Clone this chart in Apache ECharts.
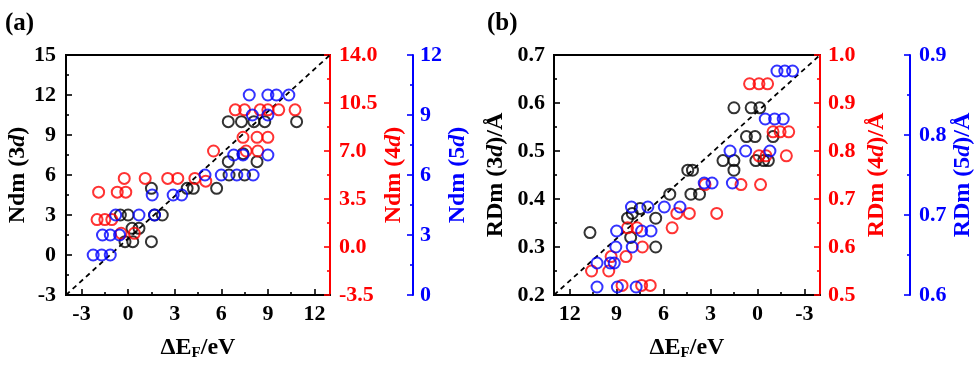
<!DOCTYPE html>
<html><head><meta charset="utf-8">
<script src="https://cdn.jsdelivr.net/npm/echarts@6/dist/echarts.min.js"></script>
<style>html,body{margin:0;padding:0;background:#fff}#c{width:979px;height:367px}</style>
</head><body><div id="c"></div>
<script>
// ---------- data ----------
// Panel (a): x = ΔE_F (eV), y = Ndm
const blackA = [[-0.2,1],[0.3,1],[1.5,1],[0.25,2],[0.7,2],[-0.5,3],[0,3],[1.7,3],[2.2,3],[1.5,5],[3.8,5],[4.2,5],[5.7,5],[6.5,6],[7.5,6],[6.45,7],[8.3,7],[7.4,7.6],[6.45,10],[7.3,10],[8.1,10],[8.8,10],[10.85,10]];
const redA = [[-1.9,4],[-0.7,4],[-0.15,4],[-0.25,5],[1.1,5],[2.55,5],[3.2,5],[4.3,5],[5.0,4.8],[5.5,7],[-2.0,2],[-1.5,2],[-1.05,2],[-0.45,1],[0.4,1],[6.9,10],[7.5,10],[8.5,10],[9.0,10],[9.7,10],[10.75,10],[7.4,8],[8.3,8],[9.0,8],[7.6,7],[8.35,7]];
const blueA = [[-2.25,2],[-1.7,2],[-1.15,2],[-1.65,3],[-1.15,3],[-0.55,3],[-0.8,4],[0.7,4],[1.7,4],[1.55,5],[2.9,5],[3.45,5],[4.95,6],[6.0,6],[7.0,6],[8.05,6],[6.8,7],[7.4,7],[9.0,7],[8.0,9],[9.0,9],[7.8,10],[9.0,10],[9.55,10],[10.35,10]];
// Panel (b): x = ΔE_F (eV, reversed), y = RDm (Å)
const blackB = [[10.7,0.33],[8.3,0.36],[8.0,0.37],[7.5,0.38],[8.1,0.32],[6.5,0.36],[6.5,0.30],[5.6,0.41],[4.45,0.46],[4.15,0.46],[4.25,0.41],[3.7,0.41],[2.2,0.48],[1.5,0.48],[1.5,0.46],[1.5,0.59],[0.4,0.59],[-0.15,0.59],[0.7,0.53],[0.15,0.53],[-1.0,0.53],[0.1,0.48],[-0.4,0.48],[-0.7,0.48]];
const redB = [[10.6,0.55],[9.5,0.55],[9.35,0.58],[8.4,0.58],[8.65,0.52],[7.4,0.52],[6.85,0.52],[8.3,0.64],[7.7,0.64],[7.35,0.60],[5.45,0.64],[5.15,0.67],[4.35,0.67],[2.6,0.67],[3.35,0.73],[1.05,0.73],[-0.2,0.73],[0.5,0.94],[-0.1,0.94],[-0.65,0.94],[-1.0,0.84],[-1.45,0.84],[-2.0,0.84],[-0.1,0.79],[-0.55,0.79],[-1.85,0.79]];
const blueB = [[10.25,0.61],[8.95,0.61],[7.75,0.61],[10.25,0.64],[9.4,0.64],[9.15,0.64],[9.05,0.66],[8.0,0.66],[9.0,0.68],[7.4,0.68],[6.8,0.68],[8.05,0.71],[7.0,0.71],[5.95,0.71],[4.95,0.71],[3.4,0.74],[2.9,0.74],[1.6,0.74],[1.75,0.78],[0.75,0.78],[-0.8,0.78],[-0.5,0.82],[-1.1,0.82],[-1.65,0.82],[-1.25,0.88],[-1.75,0.88],[-2.25,0.88]];
// axis extents / ticks
const xRange = [-4, 13];
const xMajorTicks = [-3, 0, 3, 6, 9, 12];
const xMinorTicks = [-1.5, 1.5, 4.5, 7.5, 10.5];
const yA = {black:[-3,15,3], red:[-3.5,14,3.5], blue:[0,12,3]};
const yB = {black:[0.2,0.7,0.1], red:[0.5,1.0,0.1], blue:[0.6,0.9,0.1]};
// diagonal guide lines (corner to corner of each frame)
const diagA = [[-4,-3],[13,15]];
const diagB = [[13,0.2],[-4,0.7]];

// ---------- styling ----------
const FONT = 'Liberation Serif';
const BLACK = '#000', RED = '#ff0000', BLUE = '#0000ff';
const nameRich = (color) => ({
  b:{fontFamily:FONT,fontWeight:'bold',fontSize:24,color:color},
  i:{fontFamily:FONT,fontWeight:'bold',fontStyle:'italic',fontSize:24,color:color},
  s:{fontFamily:FONT,fontWeight:'bold',fontSize:15,color:color,padding:[12,0,0,0]}
});

function xAxes(gridIndex, inverse) {
  return [{
    type:'value', gridIndex, min:xRange[0], max:xRange[1], inverse,
    position:'bottom',
    axisLine:{show:true,onZero:false,lineStyle:{color:BLACK,width:2}},
    axisTick:{show:true,inside:true,length:6,lineStyle:{width:1.6,color:BLACK},customValues:xMajorTicks},
    axisLabel:{show:true,margin:8,customValues:xMajorTicks,fontFamily:FONT,fontWeight:'bold',fontSize:22,color:BLACK},
    splitLine:{show:false},
    name:'{b|ΔE}{s|F}{b|/eV}', nameLocation:'middle', nameGap:39,
    nameTextStyle:{rich:nameRich(BLACK)}
  },{
    type:'value', gridIndex, min:xRange[0], max:xRange[1], inverse,
    position:'bottom',
    axisLine:{show:false,onZero:false},
    axisTick:{show:true,inside:true,length:3,lineStyle:{width:1.6,color:BLACK},customValues:xMinorTicks},
    axisLabel:{show:false},
    splitLine:{show:false}
  }];
}

function yAxis(gridIndex, r, color, position, offset, name, nameGap, dec, margin) {
  return {
    type:'value', gridIndex, min:r[0], max:r[1], interval:r[2], position, offset,
    axisLine:{show:true,onZero:false,lineStyle:{color,width:2}},
    axisTick:{show:true,inside:true,length:6,lineStyle:{color,width:1.6}},
    minorTick:{show:true,splitNumber:2,length:3,lineStyle:{color,width:1.6}},
    axisLabel:{show:true,margin,fontFamily:FONT,fontWeight:'bold',fontSize:22,color,
      formatter:(v)=>v.toFixed(dec)},
    splitLine:{show:false},
    name, nameLocation:'middle', nameRotate:90, nameGap,
    nameTextStyle:{rich:nameRich(color)}
  };
}

const sym = (color) => ({type:'scatter', symbol:'circle', symbolSize:11,
  itemStyle:{color:'rgba(0,0,0,0)',borderColor:color,borderWidth:2}});

const option = {
  animation:false,
  backgroundColor:'#fff',
  grid:[
    {left:66, top:55, width:264, height:240, show:true, borderColor:BLACK, borderWidth:2, backgroundColor:'transparent'},
    {left:554, top:55, width:266, height:240, show:true, borderColor:BLACK, borderWidth:2, backgroundColor:'transparent'}
  ],
  xAxis:[...xAxes(0,false), ...xAxes(1,true)],
  yAxis:[
    yAxis(0, yA.black, BLACK, 'left', 0, '{b|Ndm (3}{i|d}{b|)}', 34, 0, 10),
    yAxis(0, yA.red, RED, 'right', 0, '{b|Ndm (4}{i|d}{b|)}', 52, 1, 9),
    yAxis(0, yA.blue, BLUE, 'right', 83, '{b|Ndm (5}{i|d}{b|)}', 32, 0, 7),
    yAxis(1, yB.black, BLACK, 'left', 0, '{b|RDm (3}{i|d}{b|)/Å}', 46, 1, 9),
    yAxis(1, yB.red, RED, 'right', 0, '{b|RDm (4}{i|d}{b|)/Å}', 45, 1, 8),
    yAxis(1, yB.blue, BLUE, 'right', 90, '{b|RDm (5}{i|d}{b|)/Å}', 40, 1, 9)
  ],
  graphic:[
    {type:'text', left:5, top:11, style:{text:'(a)', font:'bold 25px "Liberation Serif"', fill:BLACK}},
    {type:'text', left:487, top:11, style:{text:'(b)', font:'bold 25px "Liberation Serif"', fill:BLACK}}
  ],
  series:[
    {type:'line', xAxisIndex:0, yAxisIndex:0, data:diagA, symbol:'none', silent:true, z:1,
      lineStyle:{color:BLACK,width:1.8,type:[5,4]}},
    {...sym(BLACK), xAxisIndex:0, yAxisIndex:0, data:blackA},
    {...sym(RED), xAxisIndex:0, yAxisIndex:1, data:redA},
    {...sym(BLUE), xAxisIndex:0, yAxisIndex:2, data:blueA},
    {type:'line', xAxisIndex:2, yAxisIndex:3, data:diagB, symbol:'none', silent:true, z:1,
      lineStyle:{color:BLACK,width:1.8,type:[5,4]}},
    {...sym(BLACK), xAxisIndex:2, yAxisIndex:3, data:blackB},
    {...sym(RED), xAxisIndex:2, yAxisIndex:4, data:redB},
    {...sym(BLUE), xAxisIndex:2, yAxisIndex:5, data:blueB}
  ]
};
const chart = echarts.init(document.getElementById('c'), null, {renderer:'canvas'});
chart.setOption(option);
</script>
</body></html>
